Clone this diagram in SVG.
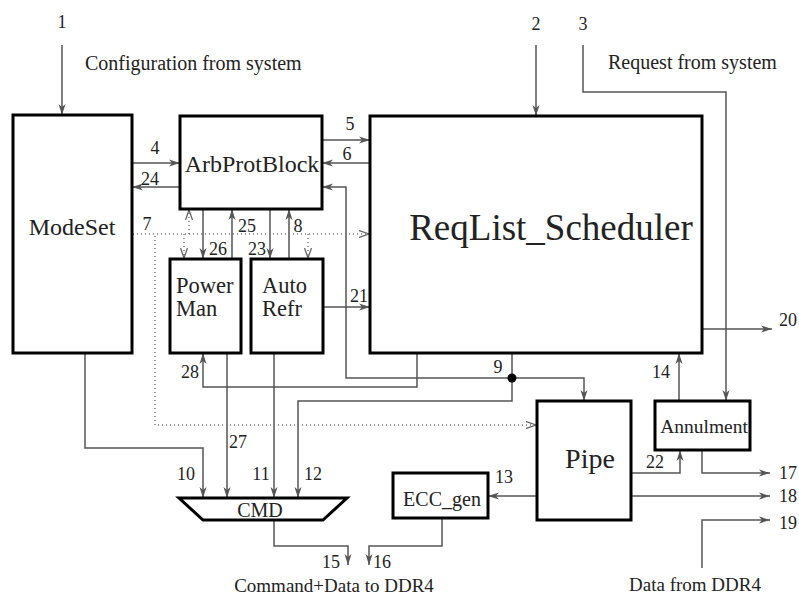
<svg xmlns="http://www.w3.org/2000/svg" width="799" height="596" viewBox="0 0 799 596">
<style>
.box{fill:#fff;stroke:#000;stroke-width:3}
.c{fill:none;stroke:#555;stroke-width:1.5}
.d{fill:none;stroke:#777;stroke-width:1.5;stroke-dasharray:1 3}
text{font-family:"Liberation Serif","Times New Roman",serif;fill:#222}
.l{font-size:18px;text-anchor:middle}
.t{font-size:20px}
</style>
<defs>
<marker id="a" markerWidth="12" markerHeight="8" refX="11" refY="4" orient="auto" markerUnits="userSpaceOnUse"><path d="M0,0.5 L11,4 L0,7.5 L3,4 z" fill="#555"/></marker>
<marker id="o" markerWidth="12" markerHeight="8" refX="10" refY="4" orient="auto" markerUnits="userSpaceOnUse"><path d="M0,0.5 L10,4 L0,7.5" fill="none" stroke="#666" stroke-width="1.3"/></marker>
</defs>
<g id="connectors">
<path class="c" d="M62,45 V115" marker-end="url(#a)"/>
<path class="c" d="M536,45 V116" marker-end="url(#a)"/>
<path class="c" d="M583,45 V92 H726 V401" marker-end="url(#a)"/>
<path class="c" d="M132,163 H180" marker-end="url(#a)"/>
<path class="c" d="M180,187 H132" marker-end="url(#a)"/>
<path class="c" d="M322,140 H370" marker-end="url(#a)"/>
<path class="c" d="M370,163 H322" marker-end="url(#a)"/>
<path class="c" d="M512,378 H346 V187 H322" marker-end="url(#a)"/>
<path class="c" d="M512,353 V401 H298 V498" marker-end="url(#a)"/>
<path class="c" d="M512,378 H584 V401" marker-end="url(#a)"/>
<path class="c" d="M417,353 V387 H203 V353" marker-end="url(#a)"/>
<path class="c" d="M203,209 V259" marker-end="url(#a)"/>
<path class="c" d="M232,259 V209" marker-end="url(#a)"/>
<path class="c" d="M270,209 V259" marker-end="url(#a)"/>
<path class="c" d="M289,259 V209" marker-end="url(#a)"/>
<path class="c" d="M323,307 H370" marker-end="url(#a)"/>
<path class="c" d="M227,353 V498" marker-end="url(#a)"/>
<path class="c" d="M274,353 V498" marker-end="url(#a)"/>
<path class="c" d="M85,353 V448 H203 V498" marker-end="url(#a)"/>
<path class="c" d="M274,520 V546 H348 V565" marker-end="url(#a)"/>
<path class="c" d="M442,518 V546 H369 V565" marker-end="url(#a)"/>
<path class="c" d="M537,496 H488" marker-end="url(#a)"/>
<path class="c" d="M631,473 H680 V450" marker-end="url(#a)"/>
<path class="c" d="M702,450 V473 H770" marker-end="url(#a)"/>
<path class="c" d="M631,496 H770" marker-end="url(#a)"/>
<path class="c" d="M702,568 V520 H770" marker-end="url(#a)"/>
<path class="c" d="M679,401 V353" marker-end="url(#a)"/>
<path class="c" d="M702,329 H772" marker-end="url(#a)"/>
<path class="d" d="M133,234 H369" marker-end="url(#o)"/>
<path class="d" d="M189,234 V210" marker-end="url(#o)"/>
<path class="d" d="M184,234 V258" marker-end="url(#o)"/>
<path class="d" d="M308,234 V258" marker-end="url(#o)"/>
<path class="d" d="M155,236 V425 H536" marker-end="url(#o)"/>
<circle cx="512" cy="378" r="4.5" fill="#000"/>
</g>
<g id="ModeSet"><rect class="box" x="13" y="115" width="119" height="238"/><text x="72" y="235" font-size="24" text-anchor="middle">ModeSet</text></g>
<g id="ArbProtBlock"><rect class="box" x="180" y="116" width="142" height="93"/><text x="252" y="172" font-size="24" text-anchor="middle">ArbProtBlock</text></g>
<g id="ReqList_Scheduler"><rect class="box" x="370" y="116" width="332" height="237"/><text x="551" y="240" font-size="37" text-anchor="middle">ReqList_Scheduler</text></g>
<g id="PowerMan"><rect class="box" x="170" y="259" width="71" height="94"/><text x="176" y="293" font-size="22.5">Power</text><text x="176" y="316" font-size="22.5">Man</text></g>
<g id="AutoRefr"><rect class="box" x="251" y="259" width="72" height="94"/><text x="262" y="293" font-size="22.5">Auto</text><text x="262" y="316" font-size="22.5">Refr</text></g>
<g id="Pipe"><rect class="box" x="537" y="401" width="94" height="119"/><text x="590" y="468" font-size="28" text-anchor="middle">Pipe</text></g>
<g id="Annulment"><rect class="box" x="655" y="401" width="95" height="49"/><text x="704" y="433" font-size="19.5" text-anchor="middle">Annulment</text></g>
<g id="ECC_gen"><rect class="box" x="393" y="473" width="95" height="45"/><text x="442" y="506" font-size="20" text-anchor="middle">ECC_gen</text></g>
<g id="CMD"><path class="box" d="M179,498 H347 L323,520 H203 Z"/><text x="260" y="517" font-size="20" text-anchor="middle">CMD</text></g>
<g id="labels">
<text class="l" x="62" y="28">1</text>
<text class="l" x="536" y="30">2</text>
<text class="l" x="583" y="30">3</text>
<text class="t" x="85" y="70">Configuration from system</text>
<text class="t" x="608" y="69">Request from system</text>
<text class="l" x="155" y="154">4</text>
<text class="l" x="150" y="185">24</text>
<text class="l" x="350" y="130">5</text>
<text class="l" x="347" y="160">6</text>
<text class="l" x="147" y="230">7</text>
<text class="l" x="247" y="232">25</text>
<text class="l" x="298" y="232">8</text>
<text class="l" x="218" y="255">26</text>
<text class="l" x="257" y="255">23</text>
<text class="l" x="359" y="302">21</text>
<text class="l" x="190" y="378">28</text>
<text class="l" x="498" y="373">9</text>
<text class="l" x="661" y="378">14</text>
<text class="l" x="788" y="326">20</text>
<text class="l" x="655" y="468">22</text>
<text class="l" x="788" y="479">17</text>
<text class="l" x="788" y="502">18</text>
<text class="l" x="788" y="529">19</text>
<text class="l" x="504" y="483">13</text>
<text class="l" x="186" y="480">10</text>
<text class="l" x="238" y="448">27</text>
<text class="l" x="261" y="480">11</text>
<text class="l" x="313" y="480">12</text>
<text class="l" x="331" y="568" font-size="16">15</text>
<text class="l" x="382" y="568" font-size="16">16</text>
<text x="334" y="592" font-size="19" text-anchor="middle">Command+Data to DDR4</text>
<text x="695" y="591" font-size="19" text-anchor="middle">Data from DDR4</text>
</g>
</svg>
